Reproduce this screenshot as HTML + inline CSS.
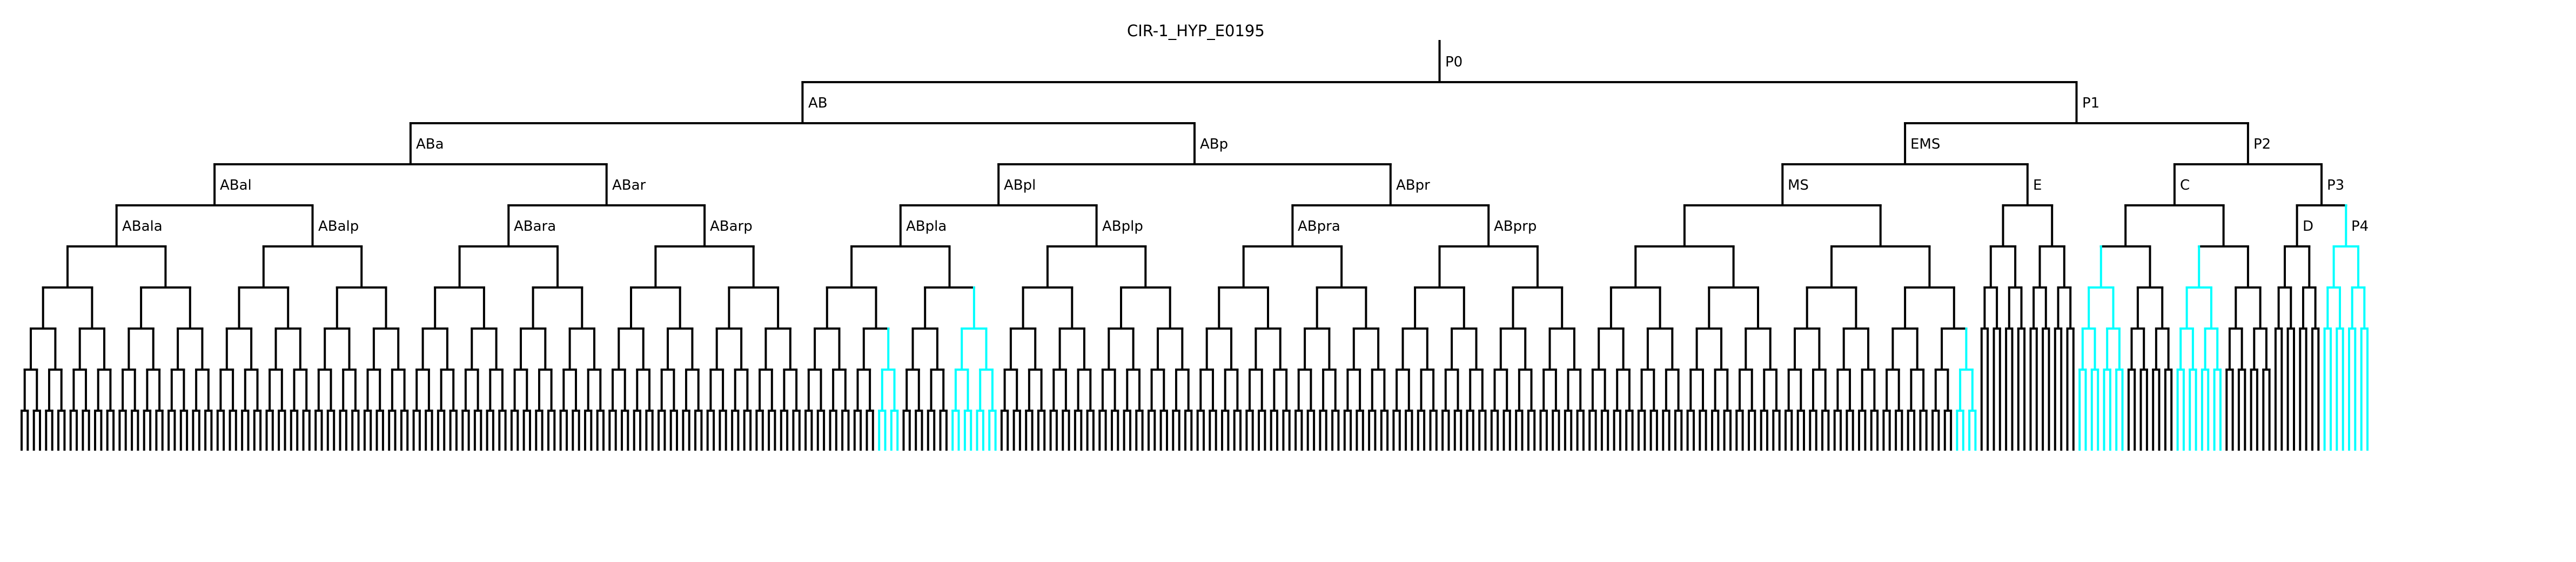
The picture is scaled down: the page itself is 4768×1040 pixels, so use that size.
<!DOCTYPE html>
<html><head><meta charset="utf-8"><style>
html,body{margin:0;padding:0;background:#fff;}
svg{display:block;}
text{font-family:"DejaVu Sans","Liberation Sans",sans-serif;font-size:26px;fill:#000;}
</style></head><body>
<svg id="s" width="4768" height="1040" viewBox="0 0 4768 1040" xmlns="http://www.w3.org/2000/svg">
<rect width="4768" height="1040" fill="#fff"/>
<g id="g" stroke-width="4" stroke-linecap="square" fill="none"></g>
<text x="2086" y="67" style="font-size:29px">CIR-1_HYP_E0195</text>
<text x="2675" y="123">P0</text>
<text x="1496" y="199">AB</text>
<text x="3854" y="199">P1</text>
<text x="770" y="275">ABa</text>
<text x="2221" y="275">ABp</text>
<text x="3536" y="275">EMS</text>
<text x="4171" y="275">P2</text>
<text x="407" y="351">ABal</text>
<text x="1133" y="351">ABar</text>
<text x="1858" y="351">ABpl</text>
<text x="2584" y="351">ABpr</text>
<text x="3309" y="351">MS</text>
<text x="3763" y="351">E</text>
<text x="4035" y="351">C</text>
<text x="4307" y="351">P3</text>
<text x="226" y="427">ABala</text>
<text x="589" y="427">ABalp</text>
<text x="951" y="427">ABara</text>
<text x="1314" y="427">ABarp</text>
<text x="1677" y="427">ABpla</text>
<text x="2040" y="427">ABplp</text>
<text x="2402" y="427">ABpra</text>
<text x="2765" y="427">ABprp</text>
<text x="4262" y="427">D</text>
<text x="4352" y="427">P4</text>
</svg>
<script>
(function(){
var Y=[76,152,228,304,380,456,532,608,684,760],BOT=832,S=(4382-40)/383,X0=40,idx=0;
var cyan=[[140,143],[152,159],[316,319],[336,343],[352,359],[376,383]];
var out=[];
function col(lo,hi){for(var i=0;i<cyan.length;i++){if(lo>=cyan[i][0]&&hi<=cyan[i][1])return '#00ffff';}return '#000';}
function leaf(){var i=idx++;return {x:X0+S*i,lo:i,hi:i,by:BOT};}
function node(k,a,b){
  var n={x:(a.x+b.x)/2,lo:a.lo,hi:b.hi,by:Y[k]};
  var c=col(n.lo,n.hi);
  out.push('<line x1="'+a.x.toFixed(1)+'" y1="'+Y[k]+'" x2="'+b.x.toFixed(1)+'" y2="'+Y[k]+'" stroke="'+c+'"/>');
  [a,b].forEach(function(ch){
    var cc=col(ch.lo,ch.hi);
    out.push('<line x1="'+ch.x.toFixed(1)+'" y1="'+Y[k]+'" x2="'+ch.x.toFixed(1)+'" y2="'+ch.by+'" stroke="'+cc+'"/>');
  });
  return n;
}
function perf(k,max){ if(k>max) return leaf(); var a=perf(k+1,max); var b=perf(k+1,max); return node(k,a,b);}
var ABa=perf(3,9), ABp=perf(3,9);
var AB=node(2,ABa,ABp);
var MS=perf(4,9), E=perf(4,7);
var EMS=node(3,MS,E);
var C=perf(4,8);
var D=perf(5,7), P4=perf(5,7);
var P3=node(4,D,P4);
var P2=node(3,C,P3);
var P1=node(2,EMS,P2);
var P0=node(1,AB,P1);
out.push('<line x1="'+P0.x.toFixed(1)+'" y1="'+Y[0]+'" x2="'+P0.x.toFixed(1)+'" y2="'+Y[1]+'" stroke="#000"/>');
var blk=out.filter(function(s){return s.indexOf('#000"')>=0;});
var cy=out.filter(function(s){return s.indexOf('#000"')<0;});
document.getElementById('g').innerHTML=blk.join('')+cy.join('');
})();
</script>
</body></html>
